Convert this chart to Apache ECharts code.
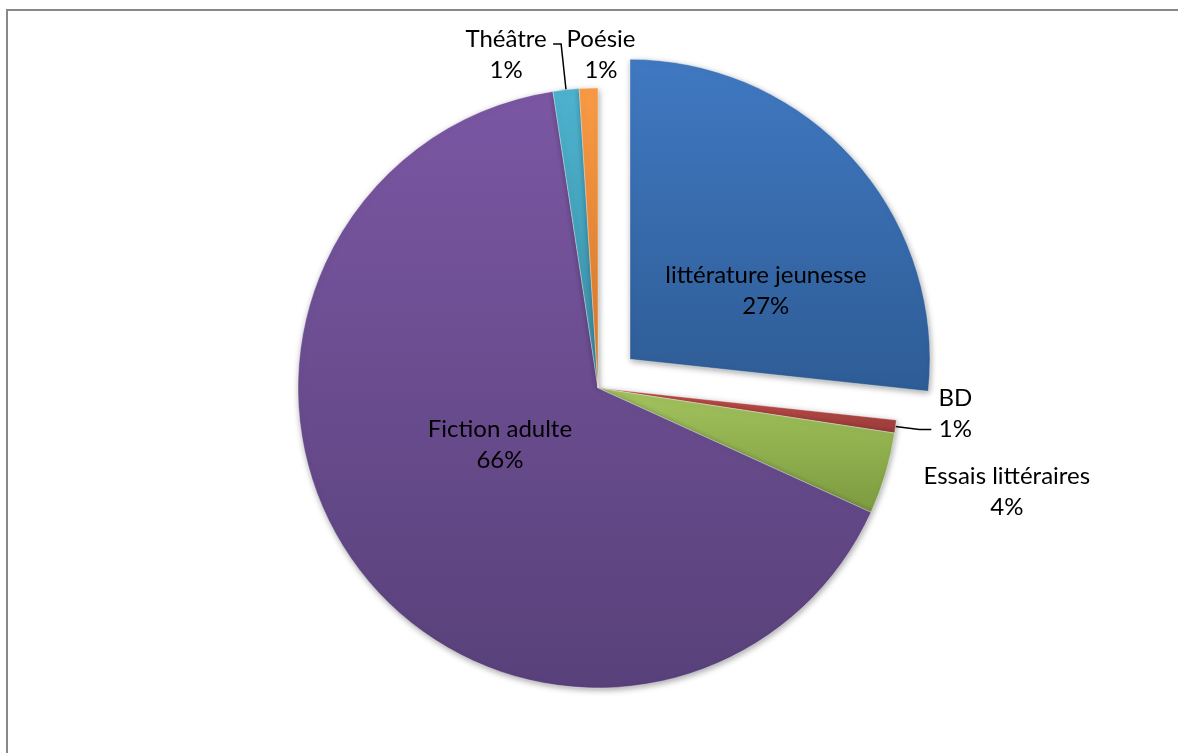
<!DOCTYPE html>
<html><head><meta charset="utf-8">
<script src="https://cdn.jsdelivr.net/npm/echarts@6.0.0/dist/echarts.min.js"></script>
<style>
html,body{margin:0;padding:0;background:#fff;}
#frame{position:absolute;left:6px;top:9px;width:1172px;height:744px;border-top:2px solid #888;border-left:2px solid #888;box-sizing:border-box;}
#chart{position:absolute;left:0;top:0;width:1178px;height:753px;}
</style></head>
<body><div id="frame"></div><div id="chart"></div>
<script>
const categories = ['littérature jeunesse', 'BD', 'Essais littéraires', 'Fiction adulte', 'Théâtre', 'Poésie'];
const values = [26.7, 0.7, 4.4, 65.8, 1.4, 1.0];
const exploded = ['littérature jeunesse'];
const insideLabels = ['littérature jeunesse', 'Fiction adulte'];
const hiddenLines = ['Essais littéraires', 'Poésie'];

// styling
const topColors = ['#4079c2', '#c9504b', '#a3c45e', '#7b57a3', '#4db3cf', '#f99a45'];
const bottomColors = ['#2e5c95', '#983c3a', '#7c9a3f', '#58417a', '#3a8da4', '#d7782a'];
const lineLengths = [[18, 12], [24, 12], [18, 12], [18, 12], [46, 8], [18, 12]];
// label nudges (px) from the library's default anchor
const labelNudge = [[22, 34], [24, -16], [92, 13], [24, -35], [-47, 11], [25, -15]];
const CENTER = [598, 388];
const RADIUS = 300;
const EXPLODE = 43;

// explode offset of the pulled-out slice, along its mid angle
const total = values.reduce((a, b) => a + b, 0);
let cum = 0, explodeCenter = CENTER.slice();
categories.forEach((name, i) => {
  if (exploded.includes(name)) {
    const mid = (cum + values[i] / 2) / total * 2 * Math.PI;
    explodeCenter = [CENTER[0] + EXPLODE * Math.sin(mid), CENTER[1] - EXPLODE * Math.cos(mid)];
  }
  cum += values[i];
});

const chart = echarts.init(document.getElementById('chart'), null, {renderer: 'canvas'});

function makeData(pulled) {
  return categories.map((name, i) => {
    const inside = insideLabels.includes(name);
    const visible = exploded.includes(name) === pulled;
    return {
      name: name,
      value: values[i],
      itemStyle: visible ? {
        color: new echarts.graphic.LinearGradient(0, 0, 0, 1, [
          {offset: 0, color: topColors[i]},
          {offset: 1, color: bottomColors[i]}
        ])
      } : {color: 'rgba(0,0,0,0)', shadowBlur: 0, shadowColor: 'rgba(0,0,0,0)', borderWidth: 0},
      label: {show: visible, position: inside ? 'inside' : 'outside'},
      labelLine: {
        show: visible && !inside && !hiddenLines.includes(name),
        length: lineLengths[i][0],
        length2: lineLengths[i][1]
      }
    };
  });
}

function layoutFn(params) {
  const i = params.dataIndex;
  const n = labelNudge[i];
  const pts = params.labelLinePoints;
  let ax, ay;
  if (pts && !insideLabels.includes(categories[i])) {
    ax = pts[pts.length - 1][0];
    ay = pts[pts.length - 1][1];
  } else {
    ax = params.labelRect.x + params.labelRect.width / 2;
    ay = params.labelRect.y + params.labelRect.height / 2;
  }
  const out = {
    x: ax + n[0],
    y: ay + n[1],
    align: 'center',
    verticalAlign: 'middle',
    hideOverlap: false,
    moveOverlap: null
  };
  if (pts) out.labelLinePoints = pts;
  return out;
}

function makeSeries(pulled) {
  return {
    type: 'pie',
    center: pulled ? explodeCenter : CENTER,
    radius: [0, RADIUS],
    startAngle: 90,
    clockwise: true,
    avoidLabelOverlap: false,
    silent: true,
    itemStyle: {
      borderColor: 'rgba(255,255,255,0.35)',
      borderWidth: 1,
      shadowBlur: 6,
      shadowColor: 'rgba(0,0,0,0.35)',
      shadowOffsetX: 1,
      shadowOffsetY: 2
    },
    label: {
      formatter: p => p.name + '\n' + Math.round(p.percent) + '%',
      fontFamily: 'Lato',
      fontSize: 24,
      lineHeight: 31,
      color: '#000'
    },
    labelLine: {lineStyle: {color: '#000', width: 1.5}},
    labelLayout: layoutFn,
    emphasis: {disabled: true},
    data: makeData(pulled)
  };
}

chart.setOption({
  backgroundColor: 'transparent',
  animation: false,
  series: [makeSeries(false), makeSeries(true)]
});
</script>
</body></html>
